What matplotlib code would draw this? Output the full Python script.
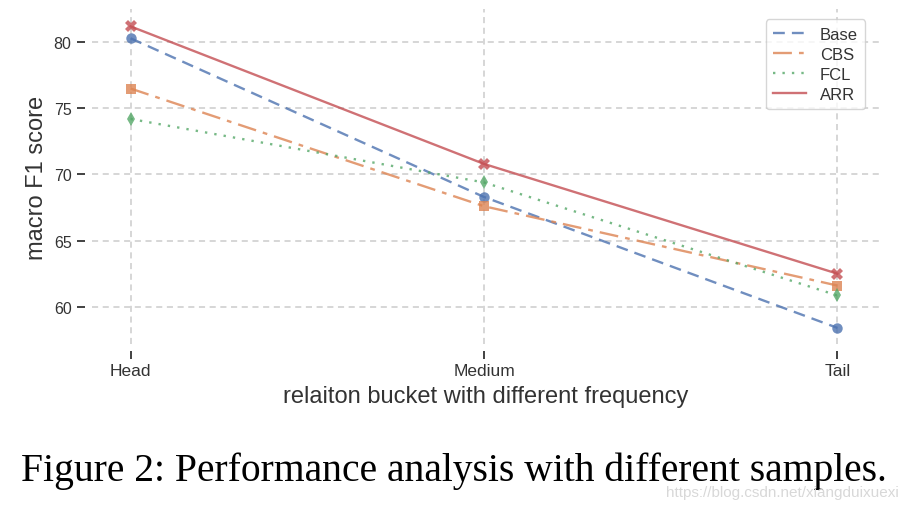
import numpy as np
import matplotlib
matplotlib.use("Agg")
import matplotlib.pyplot as plt
from matplotlib.lines import Line2D

# values
buckets = ["Head", "Medium", "Tail"]
methods = ["Base", "CBS", "FCL", "ARR"]
base_f1 = [80.3, 68.3, 58.4]
cbs_f1 = [76.5, 67.6, 61.6]
fcl_f1 = [74.2, 69.4, 60.85]
arr_f1 = [81.2, 70.8, 62.5]

colors = ["#4C72B0", "#DD8452", "#55A868", "#C44E52"]
styles = [(0, (5, 3)), (0, (8, 3, 2, 3)), (0, (1, 3)), "-"]
markers = ["o", "s", "d", "X"]

plt.rcParams["font.family"] = ["Liberation Sans", "DejaVu Sans"]

fig = plt.figure(figsize=(9.08, 5.10), dpi=100)
ax = fig.add_axes([0.101, 0.324, 0.868, 0.656])

x = np.arange(len(buckets))
handles = []
for name, vals, c, ls, m in zip(methods, [base_f1, cbs_f1, fcl_f1, arr_f1], colors, styles, markers):
	ax.plot(x, vals, color=c, linestyle=ls, marker=m, markersize=8 if m == "X" else 7.5,
			linewidth=1.7, alpha=0.8, markeredgewidth=0)
	handles.append(Line2D([], [], color=c, linestyle=ls, linewidth=1.7, alpha=0.8, label=name))

ax.set_xlim(-0.11, 2.12)
ax.set_ylim(57.2, 82.5)
ax.set_xticks(x)
ax.set_xticklabels(buckets)
ax.set_yticks([60, 65, 70, 75, 80])
ax.tick_params(axis="y", labelsize=11.5, colors="#333333", length=6, width=1.3)
ax.tick_params(axis="x", labelsize=12.5, length=6, width=1.3, colors="#333333", pad=3)

for side in ["top", "right"]:
	ax.spines[side].set_visible(False)
for side in ["left", "bottom"]:
	ax.spines[side].set_position(("outward", 5))
	ax.spines[side].set_color("none")

ax.grid(True, linestyle=(0, (4, 3)), color="#cccccc", linewidth=1.1)
ax.set_axisbelow(True)

ax.set_ylabel("macro F1 score", fontsize=17, color="#333333", labelpad=4)
ax.set_xlabel("relaiton bucket with different frequency", fontsize=17, color="#333333", labelpad=5)

leg = ax.legend(handles=handles, loc="upper right", fontsize=12, frameon=True, fancybox=True,
				handlelength=2.0, borderpad=0.45, labelspacing=0.3, bbox_to_anchor=(0.992, 0.995))
leg.get_frame().set_edgecolor("#cccccc")
leg.get_frame().set_linewidth(1.0)
for txt in leg.get_texts():
	txt.set_color("#333333")

fig.text(0.5, 0.076, "Figure 2: Performance analysis with different samples.",
		 ha="center", va="center", fontsize=28.5, family="Liberation Serif", color="black")
fig.text(0.99, 0.033, "https://blog.csdn.net/xiangduixuexi", ha="right", va="center",
		 fontsize=11, color="#d8d8d8")

fig.savefig("out.png", dpi=100)
